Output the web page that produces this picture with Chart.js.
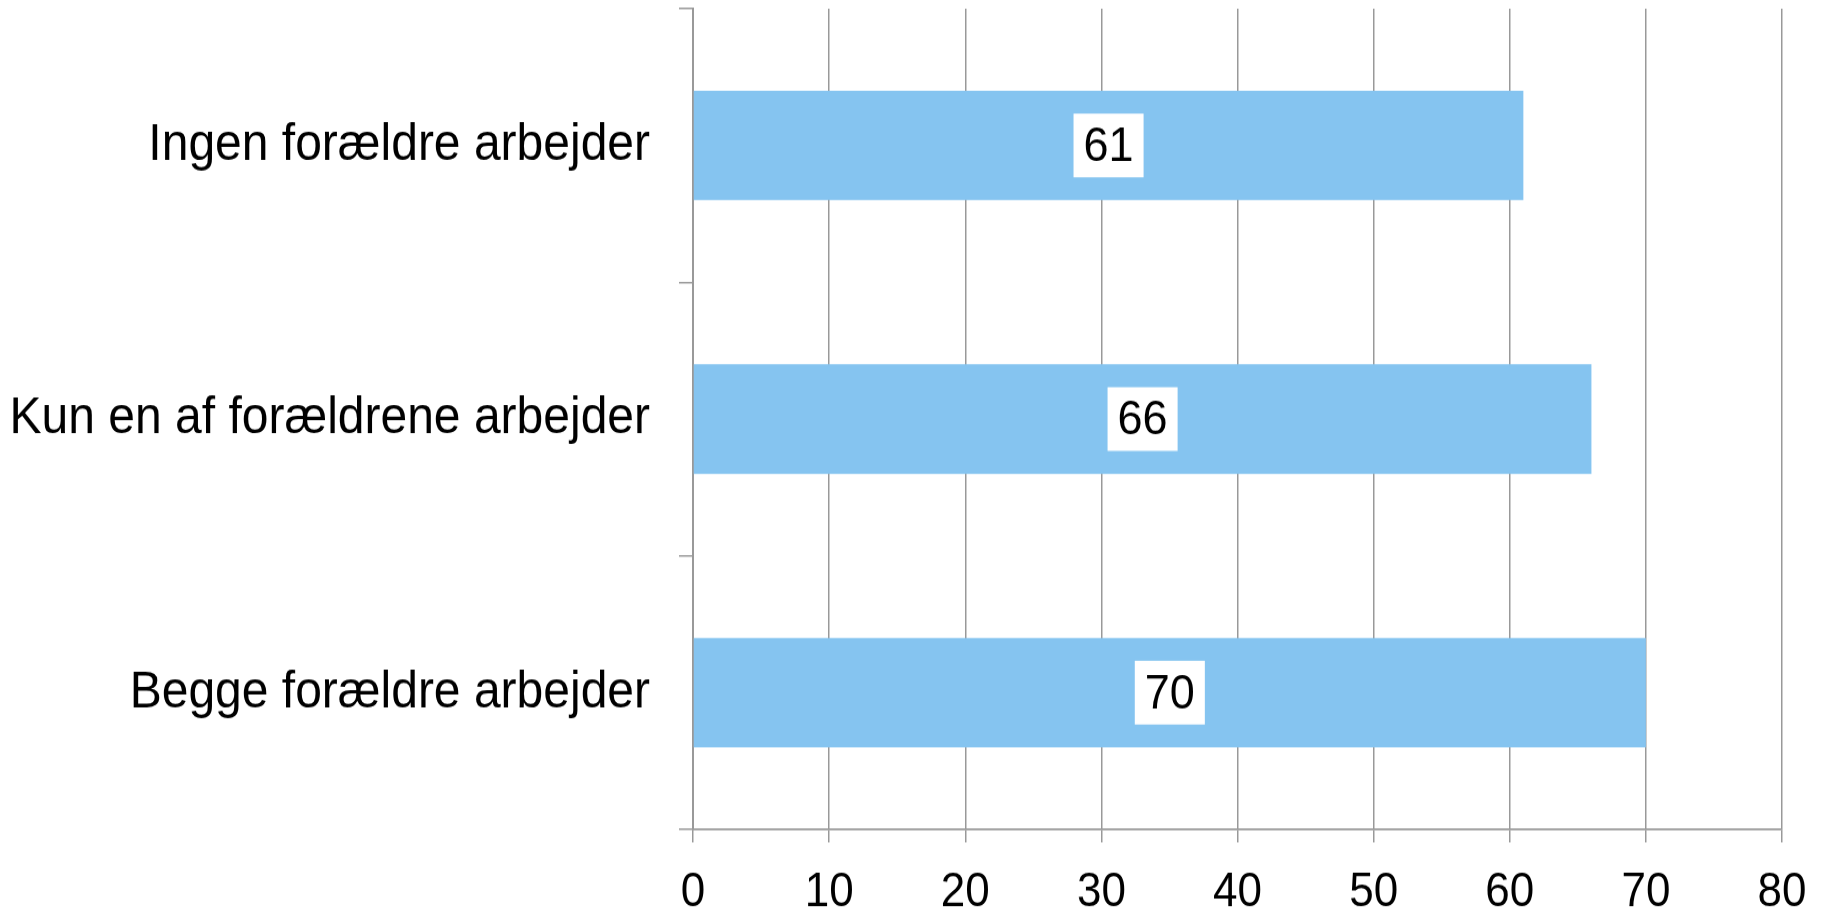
<!DOCTYPE html>
<html>
<head>
<meta charset="utf-8">
<script src="https://cdn.jsdelivr.net/npm/chart.js@4/dist/chart.umd.min.js"></script>
<style>
  html, body { margin: 0; padding: 0; background: #fff; }
  body { width: 1829px; height: 907px; overflow: hidden; }
  /* originalen er en smule strakt lodret, derfor tegnes lavere og skaleres op */
  #wrap { width: 1829px; height: 840px; position: relative; transform: scaleY(1.08); transform-origin: 0 0; }
</style>
</head>
<body>
<div id="wrap"><canvas id="chart"></canvas></div>
<script>
// Data
const categories = ['Ingen forældre arbejder', 'Kun en af forældrene arbejder', 'Begge forældre arbejder'];
const values = [61, 66, 70];
const xTicks = [0, 10, 20, 30, 40, 50, 60, 70, 80];

const FONT = '"Liberation Sans", Arial, sans-serif';
const GRID = '#999999';

// Etiketter i hvid boks midt på søjlen
const valueLabels = {
    id: 'valueLabels',
    afterDatasetsDraw(chart) {
        const ctx = chart.ctx;
        const meta = chart.getDatasetMeta(0);
        ctx.save();
        ctx.font = '45px ' + FONT;
        ctx.textAlign = 'center';
        ctx.textBaseline = 'middle';
        meta.data.forEach((bar, i) => {
            const p = bar.getCenterPoint();
            const txt = String(values[i]);
            const w = ctx.measureText(txt).width + 20;
            const h = 59;
            ctx.fillStyle = '#ffffff';
            ctx.fillRect(p.x - w / 2, p.y - h / 2, w, h);
            ctx.fillStyle = '#000000';
            ctx.fillText(txt, p.x, p.y + 2);
        });
        ctx.restore();
    }
};

new Chart(document.getElementById('chart'), {
    type: 'bar',
    data: {
        labels: categories,
        datasets: [{
            data: values,
            backgroundColor: 'rgb(133, 196, 240)',
            borderWidth: 0,
            categoryPercentage: 1,
            barPercentage: 0.4
        }]
    },
    options: {
        indexAxis: 'y',
        responsive: true,
        maintainAspectRatio: false,
        animation: false,
        layout: { padding: { top: 8, right: 47, left: 0, bottom: 0 } },
        plugins: {
            legend: { display: false },
            title: { display: false },
            tooltip: { enabled: false }
        },
        scales: {
            x: {
                min: 0,
                max: 80,
                afterBuildTicks: (axis) => { axis.ticks = xTicks.map(v => ({ value: v })); },
                ticks: {
                    color: '#000',
                    font: { family: FONT, size: 44 },
                    padding: 20,
                    maxRotation: 0
                },
                grid: {
                    color: GRID,
                    lineWidth: 1.5,
                    tickLength: 12,
                    drawOnChartArea: true
                },
                border: { color: GRID, width: 1.8 },
                afterFit: (axis) => { axis.height = 72; }
            },
            y: {
                offset: true,
                ticks: {
                    color: '#000',
                    font: { family: FONT, size: 48 },
                    padding: 29
                },
                grid: {
                    offset: true,
                    color: GRID,
                    lineWidth: 1.5,
                    tickLength: 14,
                    drawOnChartArea: false
                },
                border: { color: GRID, width: 2 },
                afterFit: (axis) => {
                    axis.width = 693;
                    axis.paddingTop = 0;
                    axis.paddingBottom = 0;
                }
            }
        }
    },
    plugins: [valueLabels]
});
</script>
</body>
</html>
